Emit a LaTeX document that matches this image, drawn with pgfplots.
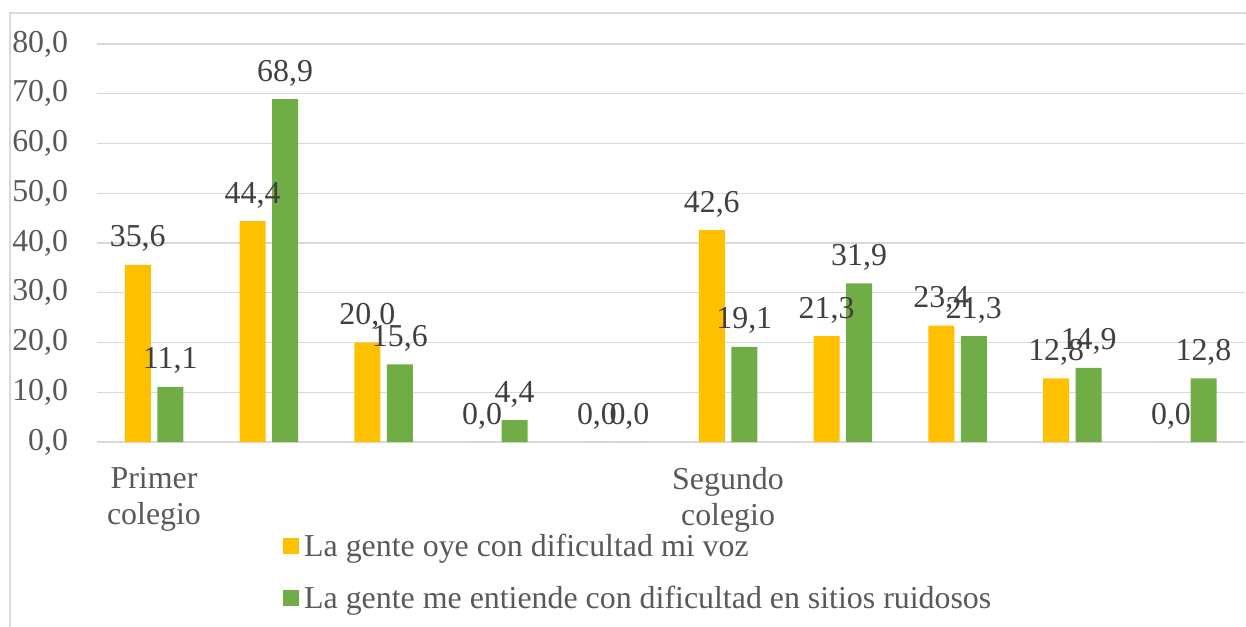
\documentclass[border=0pt]{standalone}
\usepackage{fontspec}
\setmainfont{Liberation Serif}
\usepackage{pgfplots}
\pgfplotsset{compat=1.18}
\definecolor{cYel}{HTML}{FFC000}
\definecolor{cGrn}{HTML}{70AD47}
\definecolor{cGrid}{HTML}{D9D9D9}
\definecolor{cTick}{HTML}{595959}
\definecolor{cLab}{HTML}{404040}
\begin{document}
\begin{tikzpicture}
\useasboundingbox (0,0) rectangle (1246bp,-627bp);
\draw[cGrid, line width=1.3bp] (10bp,-640bp) -- (10bp,-13bp) -- (1260bp,-13bp);
\begin{axis}[
  at={(96.6bp,-442bp)}, anchor=south west,
  scale only axis, width=1148bp, height=398bp,
  xmin=-0.5, xmax=9.5, ymin=0, ymax=80,
  ybar=6.5bp, bar width=26bp,
  axis line style={draw=none},
  major tick length=0pt,
  ymajorgrids, grid style={cGrid, line width=1.3bp},
  ytick={0,10,...,80},
  xtick={0,5},
  xticklabels={{Primer\\colegio},{Segundo\\colegio}},
  xticklabel style={align=center, font=\fontsize{32}{36}\selectfont, text=cTick, yshift=-22bp},
  yticklabel style={font=\fontsize{32}{36}\selectfont, text=cTick, xshift=-25bp},
  /pgf/number format/.cd, use comma, fixed, fixed zerofill, precision=1, assume math mode=true,
  /pgfplots/.cd,
  nodes near coords,
  every node near coord/.append style={font=\fontsize{32}{36}\selectfont, text=cLab, anchor=base, inner sep=0pt, yshift=18bp},
  legend style={at={(axis description cs:0.1624,-0.225)}, anchor=north west, draw=none, fill=none,
    font=\fontsize{32}{36}\selectfont, text=cTick, inner sep=0pt, row sep=24bp,
    /tikz/every odd column/.style={column sep=3bp}},
  legend cell align=left,
  legend image code/.code={\path[#1,draw=none] (0bp,-8bp) rectangle (16bp,8bp);},
  clip=false,
]
\addplot[fill=cYel, draw=none] coordinates {(0,35.6) (1,44.4) (2,20.0) (3,0.0) (4,0.0) (5,42.6) (6,21.3) (7,23.4) (8,12.8) (9,0.0)};
\addplot[fill=cGrn, draw=none] coordinates {(0,11.1) (1,68.9) (2,15.6) (3,4.4) (4,0.0) (5,19.1) (6,31.9) (7,21.3) (8,14.9) (9,12.8)};
\legend{La gente oye con dificultad mi voz, La gente me entiende con dificultad en sitios ruidosos}
\end{axis}
\end{tikzpicture}
\end{document}
